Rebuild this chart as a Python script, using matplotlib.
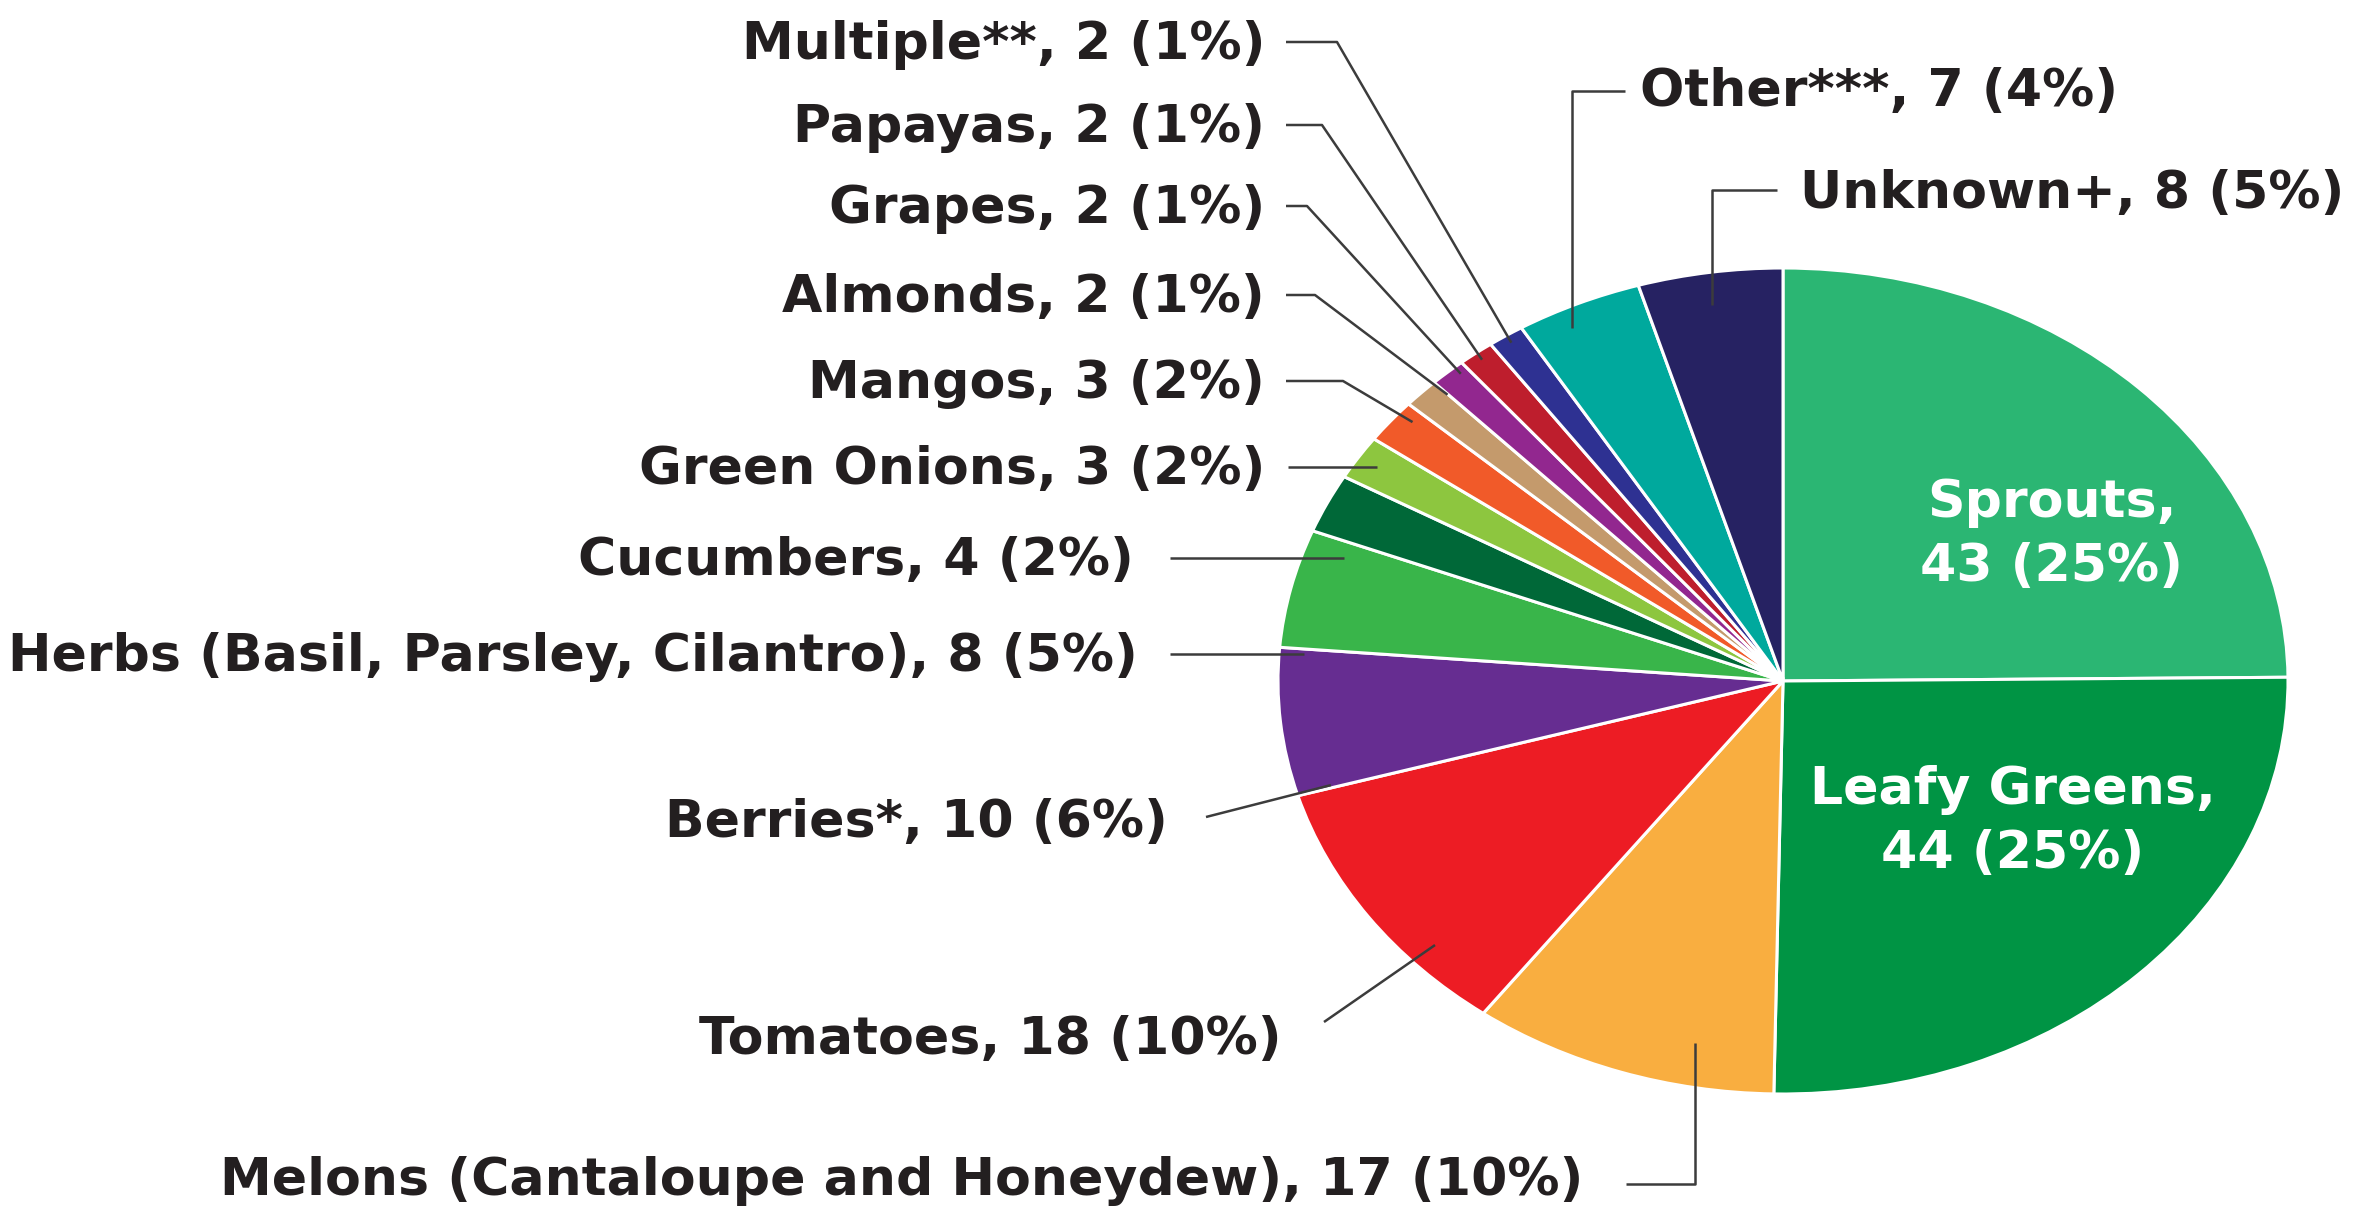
### PIE: PRODUCE CATEGORIES ###

import numpy as np
import matplotlib.pyplot as plt

# data, clockwise from 12 o'clock
names = ['Sprouts', 'Leafy Greens', 'Melons (Cantaloupe and Honeydew)', 'Tomatoes',
         'Berries*', 'Herbs (Basil, Parsley, Cilantro)', 'Cucumbers', 'Green Onions',
         'Mangos', 'Almonds', 'Grapes', 'Papayas', 'Multiple**', 'Other***', 'Unknown+']
counts = [43, 44, 17, 18, 10, 8, 4, 3, 3, 2, 2, 2, 2, 7, 8]
colors = ['#2bb673', '#009444', '#f9ae40', '#ed1c24', '#662d91', '#39b54a', '#006838',
          '#8dc63f', '#f15a29', '#c49a6c', '#92278f', '#be1e2d', '#2e3192', '#00a99d',
          '#262262']

total = sum(counts)
pcts = [int(round(100.0 * c / total)) for c in counts]

# figure geometry (pixels) - the pie is drawn as an ellipse
W, H = 2364, 1217
CX, CY = 1783, 681
RX, RY = 505, 413

def d(x, y):
    # pixel (from top-left) -> data
    return (x - CX) / RX, (CY - y) / RY

fig = plt.figure(figsize=(W / 100, H / 100), dpi=100)
ax = fig.add_axes([0, 0, 1, 1])

wedges, _ = ax.pie(counts, colors=colors, startangle=90, counterclock=False, radius=1,
                   wedgeprops=dict(edgecolor='white', linewidth=2.2))
ax.set_aspect('auto')
ax.set_xlim(-CX / RX, (W - CX) / RX)
ax.set_ylim(-(H - CY) / RY, CY / RY)
ax.axis('off')

FS = 37.5
LC = '#3c3c3c'
LW = 1.8
font = dict(fontsize=FS, fontweight='bold', family='DejaVu Sans', color='#231f20')

def mid_pt(i, dphi, r):
    w = wedges[i]
    phi = np.radians((w.theta1 + w.theta2) / 2 + dphi)
    return r * np.cos(phi), r * np.sin(phi)

# label layout: name -> (kind, text x, text y, ha, line x0, line y, elbow x, dphi / frac, r)
layout = {
    'Multiple**': ('diag', 1265, 45, 'right', 1286, 42, 1337, 0, 0.98),
    'Papayas': ('diag', 1265, 128, 'right', 1286, 125, 1322, 0, 0.98),
    'Grapes': ('diag', 1265, 209, 'right', 1286, 206, 1307, -1, 0.98),
    'Almonds': ('diag', 1265, 298, 'right', 1286, 295, 1315, -2, 0.96),
    'Mangos': ('diag', 1265, 384, 'right', 1286, 381, 1343, -1.5, 0.965),
    'Green Onions': ('horiz', 1265, 470, 'right', 1288, 467, None, 0.94, None),
    'Cucumbers': ('horiz', 1134, 561, 'right', 1170, 558, None, 0.91, None),
    'Herbs (Basil, Parsley, Cilantro)': ('horiz', 1138, 657, 'right', 1170, 654, None, 0.95, None),
    'Berries*': ('diag', 1168, 823, 'right', 1206, 817, None, 10, 0.93),
    'Tomatoes': ('diag', 1282, 1040, 'right', 1324, 1022, None, 8, 0.94),
    'Melons (Cantaloupe and Honeydew)': ('vert', 1583, 1181, 'right', 1626, 1184, 1695, -0.89, None),
    'Other***': ('vert', 1640, 92, 'left', 1625, 91, 1572, 0.94, None),
    'Unknown+': ('vert', 1800, 194, 'left', 1777, 190, 1712, 0.92, None),
}

for i, name in enumerate(names):
    if name not in layout:
        continue
    kind, tx, ty, ha, lx, ly, ex, p, r = layout[name]
    x0, y0 = d(lx, ly)
    if kind == 'diag':
        pts = [(x0, y0)]
        if ex is not None:
            pts.append(d(ex, ly))
        pts.append(mid_pt(i, p, r))
    elif kind == 'horiz':
        pts = [(x0, y0), (-p * np.sqrt(1 - y0 ** 2), y0)]
    else:
        xe, _ = d(ex, ly)
        pts = [(x0, y0), (xe, y0), (xe, p * np.sqrt(1 - xe ** 2))]
    pts = np.array(pts)
    ax.plot(pts[:, 0], pts[:, 1], color=LC, lw=LW, solid_capstyle='butt')
    ax.text(*d(tx, ty), '%s, %d (%d%%)' % (name, counts[i], pcts[i]), ha=ha, va='center', **font)

# labels inside the two big wedges
inside = {'Sprouts': (2052, 535), 'Leafy Greens': (2013, 822)}
for i, name in enumerate(names):
    if name in inside:
        ax.text(*d(*inside[name]), '%s,\n%d (%d%%)' % (name, counts[i], pcts[i]),
                ha='center', va='center', linespacing=1.35, **dict(font, color='white'))

fig.savefig('out.png', dpi=fig.dpi)
